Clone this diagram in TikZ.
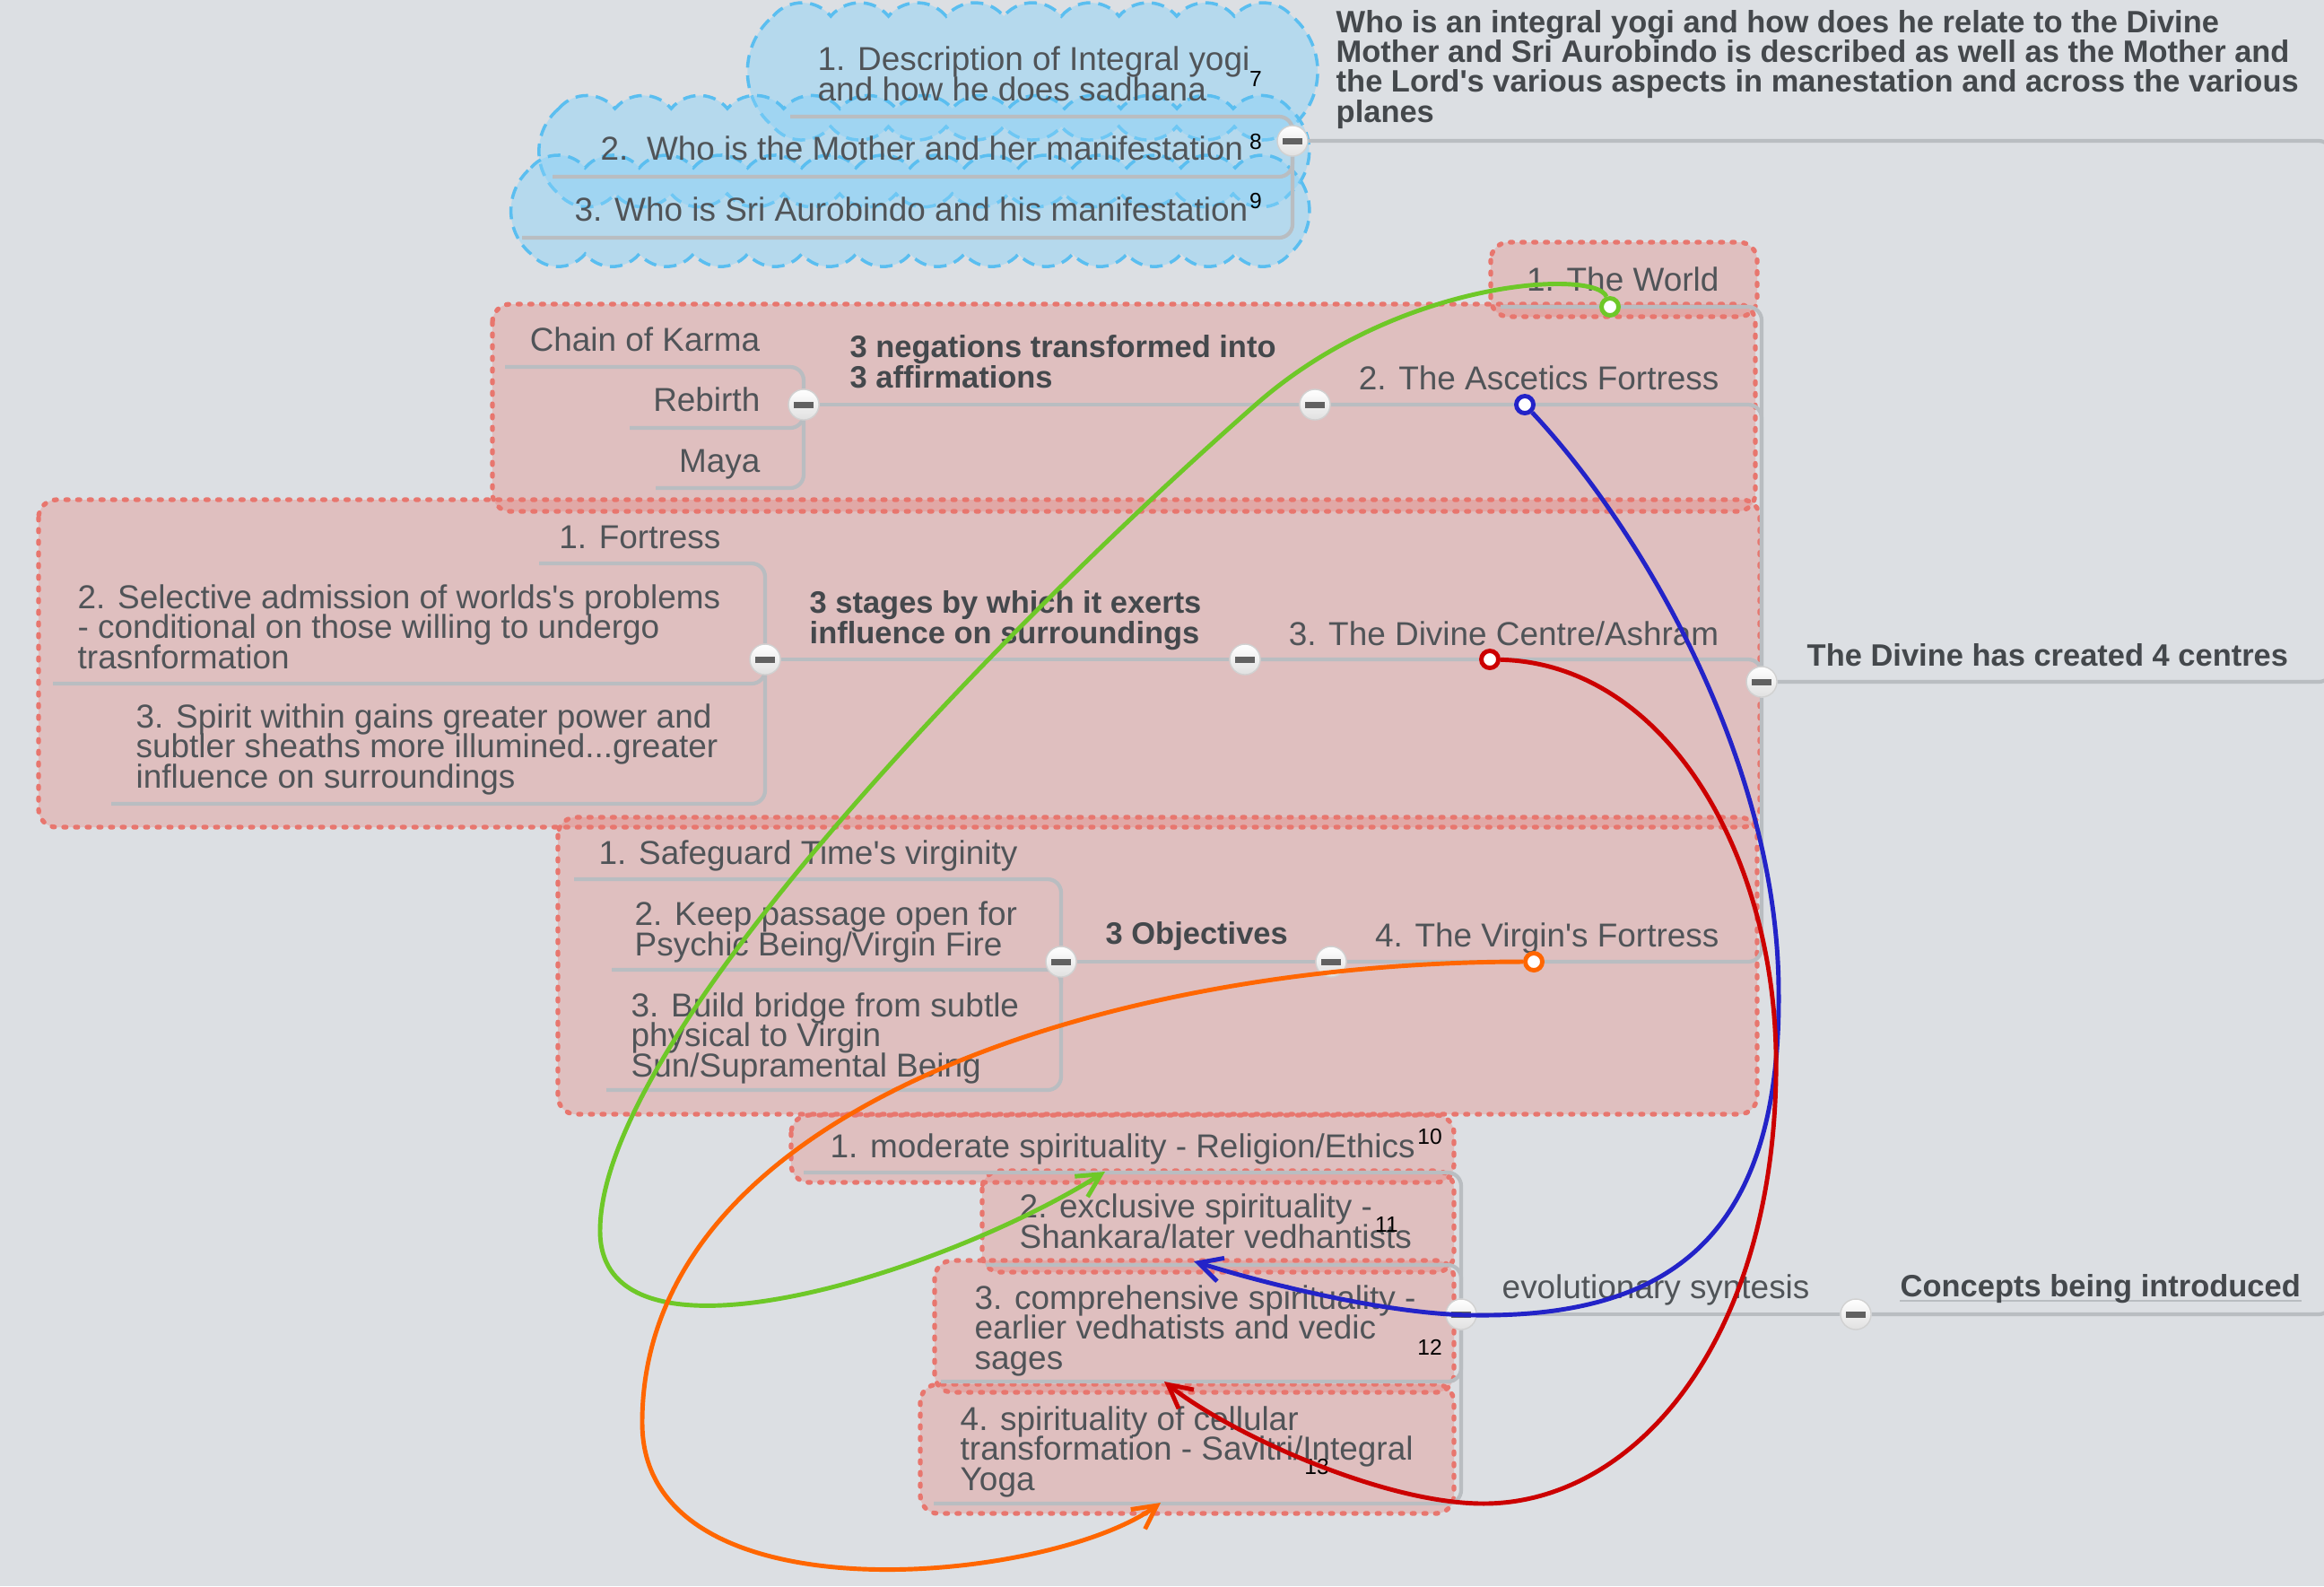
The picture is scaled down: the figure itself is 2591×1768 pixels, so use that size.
\documentclass[tikz,border=0pt]{standalone}
\usepackage{fontspec}
\setmainfont{Liberation Sans}
\usepackage{xcolor}
\definecolor{canvas}{RGB}{220,223,227}
\definecolor{inktext}{RGB}{80,84,88}
\definecolor{headtext}{RGB}{68,72,76}
\definecolor{branchgray}{RGB}{185,189,193}
\definecolor{boundred}{RGB}{232,118,110}
\definecolor{cloudblue}{RGB}{135,210,250}
\definecolor{cloudedge}{RGB}{90,190,240}
\definecolor{relgreen}{RGB}{110,200,40}
\definecolor{relblue}{RGB}{35,35,200}
\definecolor{relred}{RGB}{204,0,0}
\definecolor{relorange}{RGB}{255,102,0}
\usepackage{tikz}
\usetikzlibrary{arrows.meta, backgrounds}

\newcommand{\topicfont}{\fontsize{10.5}{9.4}\selectfont\lineskiplimit=-\maxdimen\relax}
\newcommand{\headfont}{\fontsize{9.8}{9.4}\selectfont\bfseries\lineskiplimit=-\maxdimen\relax}
\newcommand{\ap}{\textquotesingle}
% scalloped outline: left, top, right, bottom (px)
\newcommand{\cloudbox}[4]{%
  \pgfmathtruncatemacro\cldN{max(1,round((#3-#1)/62))}%
  \pgfmathsetmacro\cldR{(#3-#1)/\cldN/1.532/100}%
  \pgfmathsetmacro\cldS{(#4-#2)/1.532/100}%
  \path[cloudline] (#1,#2)
    \foreach \i in {1,...,\cldN}{ arc[start angle=140, end angle=40, radius=\cldR cm] }
    arc[start angle=50, end angle=-50, radius=\cldS cm]
    \foreach \i in {1,...,\cldN}{ arc[start angle=-40, end angle=-140, radius=\cldR cm] }
    arc[start angle=230, end angle=130, radius=\cldS cm] -- cycle;}

\begin{document}
\begin{tikzpicture}[x=0.01cm, y=-0.01cm,
  topic/.style={font=\topicfont, text=inktext, inner sep=0pt, align=left},
  heading/.style={font=\headfont, text=headtext, inner sep=0pt, align=left},
  supnum/.style={font=\fontsize{7}{8}\selectfont, text=black, inner sep=0pt},
  btn/.style={circle, minimum size=0.34cm, inner sep=0pt, draw=black!18,
    top color=white, bottom color=black!12,
    path picture={\fill[black!62] ([xshift=-0.11cm,yshift=-0.035cm]path picture bounding box.center)
      rectangle ([xshift=0.11cm,yshift=0.035cm]path picture bounding box.center);}},
  branch/.style={draw=branchgray, line width=1.2pt, rounded corners=0.15cm},
  bound/.style={draw=boundred, line width=1.5pt, dash pattern=on 0.8pt off 2.9pt, line cap=round,
    fill=boundred, fill opacity=0.3, rounded corners=0.2cm},
  cloudline/.style={draw=cloudedge, line width=1pt, dash pattern=on 4pt off 2.5pt,
    fill=cloudblue, fill opacity=0.45},
  rel/.style={line width=1.4pt, -{Straight Barb[length=0.26cm, width=0.27cm]}},
  reldot/.style={circle, minimum size=0.19cm, inner sep=0pt, fill=white, line width=1.4pt}]

  \useasboundingbox (0,0) rectangle (2591,1768);

  % integral yogi (multi-line nodes sit on their last baseline)
  \node[heading, anchor=base west] (desc) at (1489,136)
    {Who is an integral yogi and how does he relate to the Divine\\
     Mother and Sri Aurobindo is described as well as the Mother and\\
     the Lord\ap s various aspects in manestation and across the various\\
     planes};
  \node[topic, anchor=base west] (d1) at (911,112) {1. Description of Integral yogi\\and how he does sadhana};
  \node[topic, anchor=base west] (m2) at (669,178) {2.\ \ Who is the Mother and her manifestation};
  \node[topic, anchor=base west] (a3) at (640,246) {3. Who is Sri Aurobindo and his manifestation};
  \node[supnum] (sup7) at (1400,88) {7};
  \node[supnum] (sup8) at (1400,158) {8};
  \node[supnum] (sup9) at (1400,224) {9};

  % four centres
  \node[heading, anchor=base west] (c4) at (2014,742) {The Divine has created 4 centres};
  \node[topic, anchor=base east] (w1) at (1917,324) {1. The World};
  \node[topic, anchor=base east] (af) at (1917,434) {2. The Ascetics Fortress};
  \node[topic, anchor=base east] (dc) at (1917,719) {3. The Divine Centre/Ashram};
  \node[topic, anchor=base east] (vf) at (1917,1055) {4. The Virgin\ap s Fortress};

  % ascetics fortress
  \node[heading, anchor=base west] (ng) at (947,432) {3 negations transformed into\\3 affirmations};
  \node[topic, anchor=base east] (karma) at (848,391) {Chain of Karma};
  \node[topic, anchor=base east] (rebirth) at (848,458) {Rebirth};
  \node[topic, anchor=base east] (maya) at (848,526) {Maya};

  % divine centre
  \node[heading, anchor=base west] (stg) at (902,717) {3 stages by which it exerts\\influence on surroundings};
  \node[topic, anchor=base east] (f1) at (804,611) {1. Fortress};
  \node[topic, anchor=base west] (f2) at (86,745)
    {2. Selective admission of worlds\ap s problems\\- conditional on those willing to undergo\\trasnformation};
  \node[topic, anchor=base west] (f3) at (151,878)
    {3. Spirit within gains greater power and\\subtler sheaths more illumined...greater\\influence on surroundings};

  % virgin's fortress
  \node[heading, anchor=base west] (obj) at (1232,1052) {3 Objectives};
  \node[topic, anchor=base west] (s1) at (667,963) {1. Safeguard Time\ap s virginity};
  \node[topic, anchor=base west] (s2) at (707,1065) {2. Keep passage open for\\Psychic Being/Virgin Fire};
  \node[topic, anchor=base west] (s3) at (703,1200) {3. Build bridge from subtle\\physical to Virgin\\Sun/Supramental Being};

  % concepts
  \node[heading, anchor=base west] (cp) at (2118,1445) {Concepts being introduced};
  \node[topic, anchor=base west] (ev) at (1674,1447) {evolutionary syntesis};
  \node[topic, anchor=base west] (e1) at (925,1290) {1. moderate spirituality - Religion/Ethics};
  \node[topic, anchor=base west] (e2) at (1136,1391) {2. exclusive spirituality -\\Shankara/later vedhantists};
  \node[topic, anchor=base west] (e3) at (1086,1526) {3. comprehensive spirituality -\\earlier vedhatists and vedic\\sages};
  \node[topic, anchor=base west] (e4) at (1070,1661) {4. spirituality of cellular\\transformation - Savitri/Integral\\Yoga};
  \node[supnum] (sup10) at (1594,1267) {10};
  \node[supnum] (sup11) at (1546,1365) {11};
  \node[supnum] (sup12) at (1594,1502) {12};
  \node[supnum] (sup13) at (1468,1635) {13};

  % collapse buttons
  \node[btn] (descb) at (1441,157) {};
  \node[btn] (c4b) at (1964,760) {};
  \node[btn] (afb) at (1466,451) {};
  \node[btn] (negb) at (896,451) {};
  \node[btn] (dcb) at (1388,735) {};
  \node[btn] (stgb) at (853,735) {};
  \node[btn] (vfb) at (1484,1072) {};
  \node[btn] (objb) at (1183,1072) {};
  \node[btn] (cpb) at (2069,1465) {};
  \node[btn] (evb) at (1629,1465) {};

  % underline ends
  \coordinate (root) at (2600,500);
  \coordinate (d1L) at (881,130);
  \coordinate (m2L) at (616,197);
  \coordinate (a3L) at (582,265);
  \coordinate (w1L) at (1673,342);
  \coordinate (karmaL) at (563,409);
  \coordinate (rebirthL) at (702,477);
  \coordinate (mayaL) at (731,544);
  \coordinate (f1L) at (601,628);
  \coordinate (f2L) at (59,762);
  \coordinate (f3L) at (124,896);
  \coordinate (s1L) at (640,980);
  \coordinate (s2L) at (682,1081);
  \coordinate (s3L) at (676,1215);
  \coordinate (e1L) at (896,1307);
  \coordinate (e2L) at (1099,1410);
  \coordinate (e3L) at (1049,1540);
  \coordinate (e4L) at (1041,1676);

  \begin{scope}[on background layer]
    \fill[canvas] (0,0) rectangle (2591,1768);
    % boundaries
    \draw[bound] (1662,270) rectangle (1959,353);
    \draw[bound] (549,339) rectangle (1957,570);
    \draw[bound] (43,557) rectangle (1962,922);
    \draw[bound] (622,911) rectangle (1959,1242);
    \draw[bound] (882,1243) rectangle (1621,1318);
    \draw[bound] (1095,1305) rectangle (1621,1418);
    \draw[bound] (1042,1405) rectangle (1621,1552);
    \draw[bound] (1026,1543) rectangle (1621,1687);
    % clouds
    \cloudbox{862}{18}{1440}{141}
    \cloudbox{623}{121}{1437}{216}
    \cloudbox{592}{187}{1437}{283}
    % branches
    \draw[branch] (root) |- (descb);
    \draw[branch] (root) |- (c4b);
    \draw[branch] (root) |- (cpb);
    \draw[branch] (descb) |- (d1L);
    \draw[branch] (descb) |- (m2L);
    \draw[branch] (descb) |- (a3L);
    \draw[branch] (c4b) |- (w1L);
    \draw[branch] (c4b) |- (afb);
    \draw[branch] (c4b) |- (dcb);
    \draw[branch] (c4b) |- (vfb);
    \draw[branch] (afb) -- (negb);
    \draw[branch] (negb) |- (karmaL);
    \draw[branch] (negb) |- (rebirthL);
    \draw[branch] (negb) |- (mayaL);
    \draw[branch] (dcb) -- (stgb);
    \draw[branch] (stgb) |- (f1L);
    \draw[branch] (stgb) |- (f2L);
    \draw[branch] (stgb) |- (f3L);
    \draw[branch] (vfb) -- (objb);
    \draw[branch] (objb) |- (s1L);
    \draw[branch] (objb) |- (s2L);
    \draw[branch] (objb) |- (s3L);
    \draw[branch] (cpb) -- (evb);
    \draw[branch] (evb) |- (e1L);
    \draw[branch] (evb) |- (e2L);
    \draw[branch] (evb) |- (e3L);
    \draw[branch] (evb) |- (e4L);
    \draw[branchgray, line width=0.6pt] ([yshift=-1.4pt]cp.base west) -- ([yshift=-1.4pt]cp.base east);
  \end{scope}

  % relationships
  \node[reldot, draw=relgreen] (gdot) at (1795,342) {};
  \node[reldot, draw=relblue] (bdot) at (1700,451) {};
  \node[reldot, draw=relred] (rdot) at (1661,735) {};
  \node[reldot, draw=relorange] (odot) at (1710,1072) {};
  \coordinate (gE) at (1232,1306);
  \coordinate (bE) at (1331,1406);
  \coordinate (rE) at (1298,1540);
  \coordinate (oE) at (1294,1675);
  \draw[rel, relgreen] (gdot) .. controls (1780,300) and (1560,310) .. (1400,451)
    .. controls (1150,670) and (669,1150) .. (669,1372)
    .. controls (669,1540) and (1050,1420) .. (gE);
  \draw[rel, relblue] (bdot) .. controls (1830,590) and (1983,850) .. (1983,1107)
    .. controls (1985,1380) and (1860,1468) .. (1646,1466)
    .. controls (1560,1466) and (1431,1437) .. (bE);
  \draw[rel, relred] (rdot) .. controls (1860,740) and (1985,960) .. (1980,1200)
    .. controls (1975,1500) and (1820,1676) .. (1654,1676)
    .. controls (1540,1676) and (1368,1596) .. (rE);
  \draw[rel, relorange] (odot) .. controls (1250,1072) and (716,1230) .. (716,1586)
    .. controls (716,1810) and (1170,1765) .. (oE);
\end{tikzpicture}
\end{document}
